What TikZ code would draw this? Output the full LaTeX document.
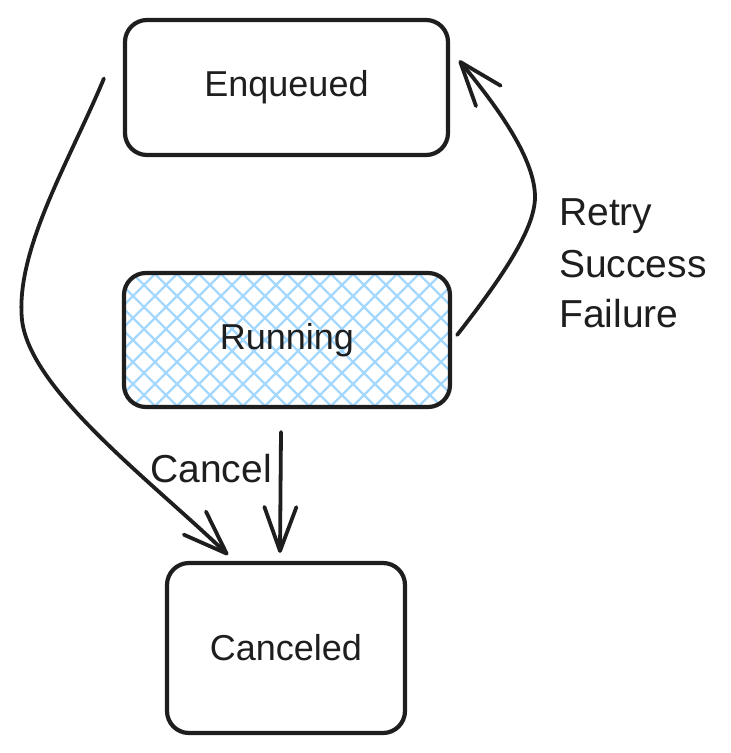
\documentclass[tikz,border=0pt]{standalone}
\usepackage{fontspec}
\setmainfont{Liberation Sans}
\usetikzlibrary{calc,arrows.meta}
\definecolor{ink}{HTML}{1E1E1E}
\definecolor{hatchblue}{HTML}{A5D8FF}
\tikzset{
  box/.style={draw=ink, line width=4.2pt, rounded corners=22pt, inner sep=0pt,
    font=\fontsize{36}{40}\selectfont, text=ink},
  hatched/.style={path picture={
    \foreach \i in {-440,-418,...,440} {
      \draw[hatchblue, line width=2.4pt]
        ([xshift=\i pt]path picture bounding box.center) ++(-200pt,-200pt) -- ++(400pt,400pt);
      \draw[hatchblue, line width=2.4pt]
        ([xshift=\i pt]path picture bounding box.center) ++(-200pt,200pt) -- ++(400pt,-400pt);
    }}},
  conn/.style={draw=ink, line width=3.8pt, line cap=round,
    -{Straight Barb[length=44pt,width=32pt,line width=3.8pt,round]}},
  lbl/.style={font=\fontsize{39}{48}\selectfont, text=ink, inner sep=0pt}
}
\begin{document}
\begin{tikzpicture}[x=1pt,y=-1pt]
\useasboundingbox (0,0) rectangle (731,753);
\node[box, minimum width=323pt, minimum height=135pt] (enq) at (286.5,87.5) {Enqueued};
\node[box, hatched, minimum width=326pt, minimum height=134pt] (run) at (287,340) {Running};
\node[box, minimum width=238pt, minimum height=170pt] (can) at (286,648) {Canceled};

% Enqueued -> Canceled
\draw[conn] ($(enq.west)+(-19,-9)$) .. controls (70,160) and (15,250) .. (22,320)
  .. controls (30,390) and (150,480) .. ($(can.north)+(-58,-6)$);
% Running -> Canceled
\draw[conn] ($(run.south)+(-6,23)$) -- ($(can.north)+(-6,-8)$);
% Running -> Enqueued
\draw[conn] ($(run.east)+(5,-5)$) .. controls (500,280) and (535,230) .. (535,197)
  .. controls (535,160) and (500,110) .. ($(enq.east)+(9,-27)$);

\node[lbl] (lcancel) at (211,469) {Cancel};
\node[lbl, anchor=base west] (lretry) at (559,225) {Retry};
\node[lbl, anchor=base west] (lsucc) at (559,277) {Success};
\node[lbl, anchor=base west] (lfail) at (559,327) {Failure};
\end{tikzpicture}
\end{document}
